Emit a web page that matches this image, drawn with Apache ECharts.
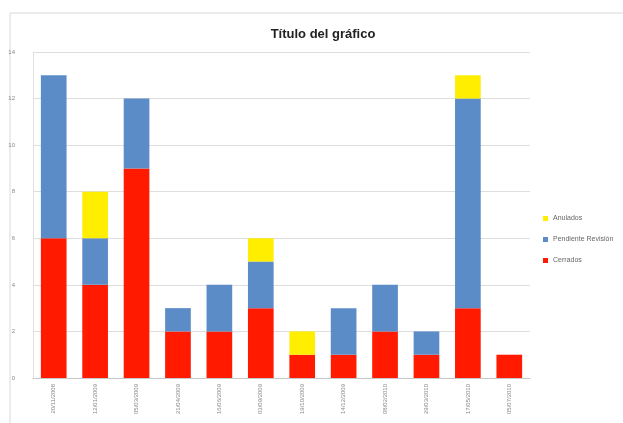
<!DOCTYPE html>
<html>
<head>
<meta charset="utf-8">
<script src="https://cdn.jsdelivr.net/npm/echarts@6/dist/echarts.min.js"></script>
<style>
  html, body { margin: 0; padding: 0; background: #fff; }
  #chart { width: 623px; height: 423px; }
</style>
</head>
<body>
<div id="chart"></div>
<script>
// Fechas de cada grupo
const categorias = ['20/11/2008','12/01/2009','05/03/2009','21/04/2009','16/06/2009','03/09/2009',
                    '19/10/2009','14/12/2009','08/02/2010','29/03/2010','17/05/2010','05/07/2010'];
const cerrados   = [6, 4, 9, 2, 2, 3, 1, 1, 2, 1, 3, 1];
const pendientes = [7, 2, 3, 1, 2, 2, 0, 2, 2, 1, 9, 0];
const anulados   = [0, 2, 0, 0, 0, 1, 1, 0, 0, 0, 1, 0];
const ticksY = [0, 2, 4, 6, 8, 10, 12, 14];

const chart = echarts.init(document.getElementById('chart'));
chart.setOption({
  animation: false,
  backgroundColor: '#fff',
  title: {
    text: 'Título del gráfico',
    left: 318, top: 23, textAlign: 'center',
    textStyle: { fontFamily: 'Liberation Sans', fontSize: 13, fontWeight: 'bold', color: '#222' }
  },
  graphic: [{
    type: 'rect', shape: { x: 10, y: 13, width: 640, height: 440 },
    style: { fill: 'none', stroke: '#d9d9d9', lineWidth: 1 }, silent: true
  }],
  legend: {
    orient: 'vertical', left: 538, top: 210, itemGap: 14,
    itemWidth: 5, itemHeight: 5, icon: 'rect',
    textStyle: { fontFamily: 'Liberation Sans', fontSize: 7, color: '#666' },
    data: ['Anulados', 'Pendiente Revisión', 'Cerrados']
  },
  grid: { left: 33, right: 93, top: 52, bottom: 45 },
  xAxis: {
    type: 'category', data: categorias,
    axisLine: { lineStyle: { color: '#c8c8c8' } },
    axisTick: { show: false },
    axisLabel: { rotate: 90, fontSize: 6, color: '#888', margin: 6, fontFamily: 'Liberation Sans' }
  },
  yAxis: {
    type: 'value', min: 0, max: 14, interval: 2,
    axisLine: { show: true, lineStyle: { color: '#e0e0e0' } },
    axisLabel: { fontSize: 6, color: '#888', margin: 18,
      formatter: v => ticksY.includes(v) ? String(v) : '' },
    splitLine: { lineStyle: { color: '#dedede' } }
  },
  series: [
    { name: 'Cerrados', type: 'bar', stack: 't', data: cerrados, barWidth: '62%',
      itemStyle: { color: '#ff1a00' } },
    { name: 'Pendiente Revisión', type: 'bar', stack: 't', data: pendientes,
      itemStyle: { color: '#5b8cc8' } },
    { name: 'Anulados', type: 'bar', stack: 't', data: anulados,
      itemStyle: { color: '#ffee00' } }
  ]
});
</script>
</body>
</html>
